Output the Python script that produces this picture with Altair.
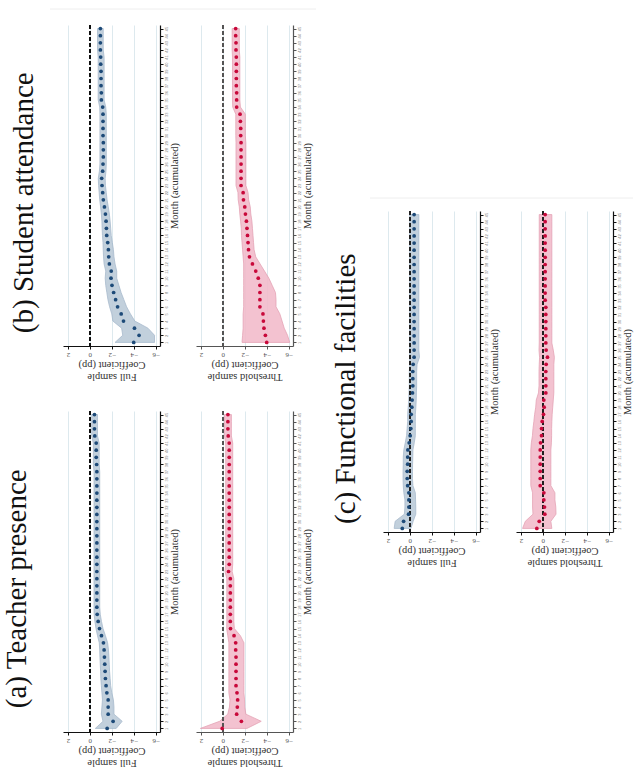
import altair as alt
import pandas as pd

MONTHS = list(range(1, 46))
COEF_TICKS = [2, 0, -2, -4, -6]

# ---------------- (a) Teacher presence ----------------
A_FULL = [-1.58, -2.12, -1.67, -1.67, -1.67, -1.55, -1.48, -1.42, -1.39, -1.36,
          -1.33, -1.30, -1.24, -1.06, -0.88, -0.76, -0.67, -0.64, -0.64, -0.64,
          -0.64, -0.64, -0.64, -0.64, -0.64, -0.64, -0.64, -0.64, -0.64, -0.64,
          -0.64, -0.64, -0.64, -0.64, -0.64, -0.64, -0.64, -0.62, -0.58, -0.58,
          -0.58, -0.45, -0.42, -0.42, -0.42]
A_FULL_LO = [-2.40, -2.95, -2.20, -2.20, -2.15, -2.00, -1.90, -1.85, -1.80, -1.77,
             -1.74, -1.70, -1.62, -1.42, -1.20, -1.06, -0.95, -0.90, -0.90, -0.90,
             -0.90, -0.90, -0.90, -0.90, -0.90, -0.90, -0.90, -0.90, -0.90, -0.90,
             -0.90, -0.90, -0.90, -0.90, -0.90, -0.90, -0.90, -0.85, -0.85, -0.85,
             -0.85, -0.70, -0.70, -0.70, -0.70]
A_FULL_HI = [-0.50, -1.20, -1.05, -1.10, -1.15, -1.10, -1.05, -1.00, -0.98, -0.95,
             -0.92, -0.90, -0.86, -0.70, -0.56, -0.46, -0.39, -0.38, -0.38, -0.38,
             -0.38, -0.38, -0.38, -0.38, -0.38, -0.38, -0.38, -0.38, -0.38, -0.38,
             -0.38, -0.38, -0.38, -0.38, -0.38, -0.38, -0.38, -0.32, -0.32, -0.32,
             -0.32, -0.17, -0.17, -0.17, -0.17]
A_THR = [0.06, -1.69, -1.26, -1.32, -1.35, -1.29, -1.20, -1.20, -1.20, -1.20,
         -1.20, -1.17, -1.17, -1.02, -0.70, -0.68, -0.68, -0.68, -0.68, -0.68,
         -0.68, -0.68, -0.52, -0.58, -0.58, -0.58, -0.58, -0.58, -0.58, -0.58,
         -0.58, -0.58, -0.58, -0.58, -0.58, -0.58, -0.58, -0.58, -0.58, -0.58,
         -0.58, -0.49, -0.46, -0.46, -0.46]
A_THR_LO = [-2.20, -3.50, -2.10, -2.00, -1.98, -1.92, -1.92, -1.92, -1.92, -1.92,
            -1.92, -1.92, -1.92, -1.60, -1.05, -1.00, -1.00, -1.00, -1.00, -1.00,
            -1.00, -1.00, -0.85, -0.90, -0.90, -0.90, -0.90, -0.90, -0.90, -0.90,
            -0.90, -0.90, -0.90, -0.90, -0.90, -0.90, -0.90, -0.90, -0.90, -0.90,
            -0.90, -0.78, -0.78, -0.78, -0.78]
A_THR_HI = [2.05, 0.30, -0.45, -0.60, -0.65, -0.55, -0.55, -0.55, -0.55, -0.55,
            -0.55, -0.55, -0.55, -0.45, -0.35, -0.36, -0.36, -0.36, -0.36, -0.36,
            -0.36, -0.36, -0.20, -0.26, -0.26, -0.26, -0.26, -0.26, -0.26, -0.26,
            -0.26, -0.26, -0.26, -0.26, -0.26, -0.26, -0.26, -0.26, -0.26, -0.26,
            -0.26, -0.15, -0.15, -0.15, -0.15]

# ---------------- (b) Student attendance ----------------
B_FULL = [-4.00, -4.49, -4.07, -3.07, -2.86, -2.53, -2.35, -2.17, -2.02, -1.93,
          -1.95, -1.78, -1.72, -1.69, -1.63, -1.54, -1.51, -1.48, -1.42, -1.33,
          -1.23, -1.17, -1.11, -1.08, -1.17, -1.20, -1.23, -1.23, -1.23, -1.20,
          -1.20, -1.20, -1.20, -1.17, -1.05, -1.05, -1.02, -1.02, -1.02, -0.99,
          -0.99, -0.96, -0.96, -0.96, -0.96]
B_FULL_LO = [-5.90, -5.90, -5.30, -4.10, -3.70, -3.35, -3.10, -2.85, -2.65, -2.45,
             -2.45, -2.30, -2.20, -2.15, -2.05, -1.95, -1.90, -1.85, -1.78, -1.68,
             -1.57, -1.50, -1.42, -1.40, -1.47, -1.50, -1.50, -1.50, -1.50, -1.50,
             -1.50, -1.50, -1.50, -1.45, -1.30, -1.30, -1.30, -1.30, -1.30, -1.30,
             -1.30, -1.22, -1.22, -1.22, -1.22]
B_FULL_HI = [-2.30, -3.00, -2.90, -2.10, -2.00, -1.80, -1.65, -1.55, -1.45, -1.40,
             -1.45, -1.30, -1.25, -1.22, -1.20, -1.15, -1.12, -1.10, -1.05, -0.98,
             -0.90, -0.85, -0.80, -0.77, -0.87, -0.92, -0.92, -0.92, -0.92, -0.92,
             -0.92, -0.92, -0.92, -0.90, -0.76, -0.76, -0.76, -0.76, -0.76, -0.76,
             -0.76, -0.70, -0.70, -0.70, -0.70]
B_THR = [-4.00, -3.88, -3.75, -3.70, -3.66, -3.38, -3.38, -3.38, -3.38, -3.23,
         -3.00, -2.70, -2.43, -2.34, -2.30, -2.25, -2.20, -2.15, -2.06, -2.00,
         -1.88, -1.85, -1.66, -1.66, -1.66, -1.66, -1.66, -1.66, -1.66, -1.63,
         -1.63, -1.60, -1.57, -1.26, -1.26, -1.26, -1.23, -1.23, -1.23, -1.23,
         -1.23, -1.20, -1.20, -1.17, -1.17]
B_THR_LO = [-6.10, -5.90, -5.60, -5.40, -5.20, -4.85, -4.85, -4.80, -4.50, -4.20,
            -3.80, -3.40, -3.00, -2.85, -2.80, -2.75, -2.70, -2.65, -2.55, -2.50,
            -2.35, -2.30, -2.10, -2.10, -2.10, -2.10, -2.10, -2.10, -2.10, -2.05,
            -2.05, -2.05, -2.05, -1.60, -1.55, -1.55, -1.55, -1.55, -1.55, -1.55,
            -1.55, -1.50, -1.50, -1.50, -1.50]
B_THR_HI = [-1.75, -1.80, -1.85, -1.85, -1.85, -1.90, -1.90, -1.90, -1.90, -1.90,
            -1.90, -1.90, -1.85, -1.80, -1.75, -1.70, -1.68, -1.62, -1.55, -1.50,
            -1.40, -1.38, -1.20, -1.20, -1.20, -1.20, -1.20, -1.20, -1.20, -1.18,
            -1.18, -1.18, -1.18, -0.90, -0.88, -0.88, -0.88, -0.88, -0.88, -0.88,
            -0.88, -0.85, -0.85, -0.85, -0.85]

# ---------------- (c) Functional facilities ----------------
C_FULL = [0.69, 0.57, 0.12, 0.09, 0.09, 0.09, 0.20, 0.24, 0.24, 0.20,
          0.20, 0.18, 0.06, -0.03, -0.09, -0.12, -0.12, -0.18, -0.21, -0.24,
          -0.27, -0.27, -0.27, -0.30, -0.39, -0.39, -0.39, -0.39, -0.39, -0.39,
          -0.39, -0.39, -0.39, -0.39, -0.39, -0.39, -0.39, -0.39, -0.39, -0.39,
          -0.39, -0.39, -0.39, -0.39, -0.39]
C_FULL_LO = [-0.10, -0.30, -0.54, -0.54, -0.52, -0.50, -0.28, -0.24, -0.24, -0.25,
             -0.27, -0.28, -0.40, -0.50, -0.50, -0.50, -0.50, -0.55, -0.58, -0.60,
             -0.62, -0.62, -0.62, -0.66, -0.88, -0.82, -0.82, -0.82, -0.82, -0.82,
             -0.82, -0.82, -0.82, -0.82, -0.82, -0.82, -0.82, -0.82, -0.82, -0.82,
             -0.82, -0.82, -0.82, -0.82, -0.82]
C_FULL_HI = [1.43, 1.34, 0.50, 0.45, 0.45, 0.55, 0.60, 0.62, 0.62, 0.60,
             0.60, 0.55, 0.42, 0.30, 0.25, 0.20, 0.20, 0.15, 0.10, 0.08,
             0.05, 0.05, 0.05, 0.00, 0.02, 0.02, 0.02, 0.02, 0.02, 0.02,
             0.02, 0.02, 0.02, 0.02, 0.02, 0.02, 0.02, 0.02, 0.02, 0.02,
             0.02, 0.02, 0.02, 0.02, 0.02]
C_THR = [0.55, 0.33, -0.18, -0.15, -0.09, -0.09, 0.24, 0.24, 0.24, 0.24,
         0.24, 0.24, 0.21, 0.12, 0.12, 0.06, -0.06, -0.12, -0.09, -0.27,
         -0.27, -0.27, -0.27, -0.30, -0.42, -0.30, -0.27, -0.27, -0.27, -0.27,
         -0.27, -0.27, -0.21, -0.21, -0.21, -0.21, -0.21, -0.21, -0.21, -0.21,
         -0.21, -0.21, -0.21, -0.21, -0.21]
C_THR_LO = [-0.82, -0.73, -1.20, -1.18, -1.10, -1.10, -0.73, -0.73, -0.73, -0.73,
            -0.73, -0.73, -0.78, -0.80, -0.80, -0.82, -0.85, -0.90, -0.95, -1.00,
            -1.00, -1.00, -1.00, -1.00, -1.05, -0.95, -0.82, -0.82, -0.82, -0.82,
            -0.82, -0.82, -0.82, -0.82, -0.82, -0.82, -0.82, -0.82, -0.82, -0.82,
            -0.82, -0.82, -0.82, -0.82, -0.82]
C_THR_HI = [1.85, 1.60, 0.90, 0.94, 0.94, 0.94, 1.10, 1.10, 1.10, 1.10,
            1.10, 1.10, 1.05, 0.95, 0.90, 0.82, 0.75, 0.65, 0.60, 0.40,
            0.35, 0.35, 0.35, 0.33, 0.30, 0.35, 0.33, 0.33, 0.33, 0.33,
            0.33, 0.33, 0.33, 0.33, 0.33, 0.33, 0.33, 0.33, 0.33, 0.33,
            0.33, 0.33, 0.33, 0.33, 0.33]

TITLE_FONT = "Liberation Serif"
TXT_FONT = "Liberation Serif"

BLUE, BLUE_FILL, BLUE_STROKE = "#1d4a78", "#bccbd9", "#9fb4c8"
RED, RED_FILL, RED_STROKE = "#c8083a", "#f2bccb", "#e29aae"
GRID = "#dde9ee"

W, H = 97, 321


def subplot(coef, lo, hi, dot, fill, stroke, zero_color, axis_color, sample):
    d = pd.DataFrame({"month": MONTHS, "coef": coef, "lo": lo, "hi": hi})
    xscale = alt.Scale(domain=[2.45, -6.4], nice=False, zero=False)
    yscale = alt.Scale(domain=[0.5, 45.5], nice=False, zero=False)
    xaxis = alt.Axis(orient="bottom", values=COEF_TICKS, labelAngle=180,
                     labelAlign="center", labelBaseline="bottom", labelFontSize=7,
                     labelColor="#555", labelFont=TXT_FONT, labelPadding=2,
                     labelFlush=False, labelOverlap=False, tickSize=3,
                     tickColor=axis_color, domainColor=axis_color, domainWidth=1.2,
                     grid=True, gridColor=GRID, gridWidth=1,
                     title=[sample, "Coefficient (pp)"], titleAngle=180,
                     titleBaseline="bottom", titleFont=TXT_FONT, titleFontSize=10.5,
                     titleFontWeight="normal", titleColor="#333", titlePadding=13,
                     titleLineHeight=11.5)
    yaxis = alt.Axis(orient="right", values=MONTHS, labelAngle=270,
                     labelAlign="center", labelBaseline="top", labelFontSize=4,
                     labelColor="#777", labelPadding=1, labelOverlap=False,
                     labelFlush=False, tickSize=3, tickColor=axis_color,
                     domainColor=axis_color, domainWidth=1.2, grid=False,
                     title="Month (acumulated)", titleAngle=270, titleBaseline="top",
                     titleAlign="center", titleFont=TXT_FONT,
                     titleFontSize=10.5, titleFontWeight="normal", titleColor="#333",
                     titlePadding=1)
    base = alt.Chart(d)
    band = base.mark_area(orient="horizontal", color=fill, opacity=0.9,
                          stroke=stroke, strokeWidth=0.8).encode(
        y=alt.Y("month:Q", scale=yscale, axis=yaxis),
        x=alt.X("lo:Q", scale=xscale, axis=xaxis),
        x2="hi:Q",
    )
    zero = base.mark_rule(color=zero_color, strokeDash=[3.5, 2.5], strokeWidth=1.1).encode(
        x=alt.X(datum=0, type="quantitative", scale=xscale, axis=xaxis)
    )
    pts = base.mark_circle(color=dot, size=14, opacity=1).encode(
        x=alt.X("coef:Q", scale=xscale, axis=xaxis),
        y=alt.Y("month:Q", scale=yscale, axis=yaxis),
    )
    return alt.layer(band, zero, pts).properties(width=W, height=H)


def panel(title, full, thr, offset):
    return alt.hconcat(full, thr, spacing=16).properties(
        title=alt.TitleParams(title, orient="left", anchor="middle", font=TITLE_FONT,
                              fontSize=29, fontWeight="normal", color="#111",
                              offset=offset)
    )


def spacer(h, w, x0, x1):
    return alt.Chart(pd.DataFrame({"k": [0]})).mark_rule(color="#eeeeee", strokeWidth=1).encode(
        x=alt.value(x0), x2=alt.value(x1), y=alt.value(h)
    ).properties(width=w, height=h)


pa = panel("(a) Teacher presence",
           subplot(A_FULL, A_FULL_LO, A_FULL_HI, BLUE, BLUE_FILL, BLUE_STROKE, "#111", "#111", "Full sample"),
           subplot(A_THR, A_THR_LO, A_THR_HI, RED, RED_FILL, RED_STROKE, "#555", "#555", "Threshold sample"),
           31)
pb = panel("(b) Student attendance",
           subplot(B_FULL, B_FULL_LO, B_FULL_HI, BLUE, BLUE_FILL, BLUE_STROKE, "#111", "#111", "Full sample"),
           subplot(B_THR, B_THR_LO, B_THR_HI, RED, RED_FILL, RED_STROKE, "#555", "#555", "Threshold sample"),
           24)
pc = panel("(c) Functional facilities",
           subplot(C_FULL, C_FULL_LO, C_FULL_HI, BLUE, BLUE_FILL, BLUE_STROKE, "#222", "#111", "Full sample"),
           subplot(C_THR, C_THR_LO, C_THR_HI, RED, RED_FILL, RED_STROKE, "#222", "#111", "Threshold sample"),
           22)

left = alt.vconcat(spacer(4, 200, -13, 253), alt.vconcat(pb, pa, spacing=29), spacing=14)
right = alt.vconcat(spacer(193, 200, -13, 250), pc, spacing=11)

chart = alt.hconcat(left, right, spacing=14).properties(
    padding={"left": 2, "top": 5, "right": 0, "bottom": 0},
    background="white",
).configure_view(stroke=None).configure_concat(spacing=0)

chart.save("out.html", embed_options={"renderer": "svg", "actions": False})
